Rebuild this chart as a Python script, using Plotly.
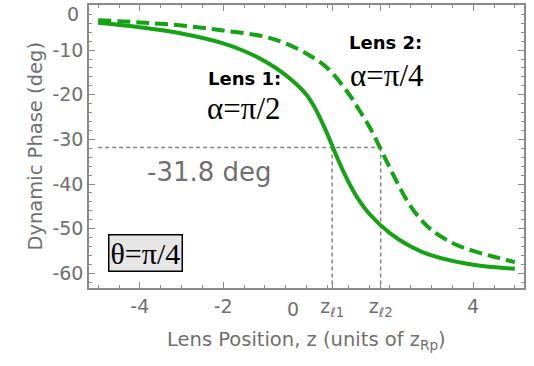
import plotly.graph_objects as go

# =============================================================================
# DATA
# =============================================================================
x_lens1 = [-5, -4, -3, -2, -1.5, -1, -0.5, 0, 0.25, 0.5, 0.75, 1.0, 1.25, 1.5, 2.0, 2.5, 3.0, 4.0, 5.0]
phase_lens1 = [-3.9, -4.9, -6.3, -8.5, -10.2, -12.5, -15.6, -20.0, -23.8, -28.8, -34.4, -39.4, -43.5, -46.6, -51.0, -54.0, -56.0, -58.1, -59.0]

x_lens2 = [-5, -4, -3, -2, -1, -0.5, 0, 0.5, 1.0, 1.25, 1.5, 1.75, 2.0, 2.25, 2.5, 2.75, 3.0, 3.5, 4.0, 4.5, 5.0]
phase_lens2 = [-3.3, -3.8, -4.5, -5.6, -7.0, -8.5, -10.8, -14.0, -19.6, -23.2, -27.0, -31.6, -36.4, -41.0, -45.0, -48.0, -50.3, -53.2, -55.0, -56.3, -57.5]

z_l1 = 0.615
z_l2 = 1.78
phase_mark = -31.8

x_tick_vals = [-4, -2, 4, z_l1, z_l2]
x_tick_text = ['-4', '-2', '4', 'z<sub><i>ℓ</i>1</sub>', 'z<sub><i>ℓ</i>2</sub>']
y_tick_vals = [-10, -20, -30, -40, -50, -60]
y_tick_text = ['-10', '-20', '-30', '-40', '-50', '-60']

X_RANGE = [-5.22, 5.22]
Y_RANGE = [-63.3, 0.1]

GREEN = '#13a313'
GRAY = '#707070'
GUIDE = '#858585'
SANS = 'DejaVu Sans'
SERIF = 'Liberation Serif'

# =============================================================================
# FIGURE
# =============================================================================
fig = go.Figure()

# guide lines
fig.add_trace(go.Scatter(
    x=[x_lens1[0], z_l2], y=[phase_mark, phase_mark], mode='lines',
    line=dict(color=GUIDE, width=1.5, dash='4px,3px'), hoverinfo='skip'
))
for zz in [z_l1, z_l2]:
    fig.add_trace(go.Scatter(
        x=[zz, zz], y=[phase_mark, Y_RANGE[0]], mode='lines',
        line=dict(color=GUIDE, width=1.5, dash='4px,3px'), hoverinfo='skip'
    ))

fig.add_trace(go.Scatter(
    x=x_lens2, y=phase_lens2, name='Lens 2', mode='lines', line_shape='spline',
    line=dict(color=GREEN, width=4, dash='13px,6px')
))
fig.add_trace(go.Scatter(
    x=x_lens1, y=phase_lens1, name='Lens 1', mode='lines', line_shape='spline',
    line=dict(color=GREEN, width=4)
))

axis_common = dict(
    showline=True, linecolor='#8a8a8a', linewidth=1.5, mirror='ticks',
    ticks='inside', ticklen=6, tickcolor='#8a8a8a', tickwidth=1,
    showgrid=False, zeroline=False, automargin=False,
    tickfont=dict(family=SANS, size=19, color=GRAY),
)

fig.update_layout(
    width=534, height=366,
    margin=dict(t=5, b=78, l=89, r=10),
    plot_bgcolor='white', paper_bgcolor='white',
    showlegend=False,
    xaxis=dict(range=X_RANGE, tickmode='array', tickvals=x_tick_vals, ticktext=x_tick_text,
               minor=dict(dtick=0.5, tick0=0, ticks='inside', ticklen=3, tickcolor='#8a8a8a'),
               **axis_common),
    yaxis=dict(range=Y_RANGE, tickmode='array', tickvals=y_tick_vals, ticktext=y_tick_text,
               minor=dict(dtick=2, tick0=0, ticks='inside', ticklen=3, tickcolor='#8a8a8a'),
               **axis_common),
)

ann = [
    # tick labels placed by hand, as in the reference
    dict(x=-0.33, y=0, yref='paper', yanchor='top', yshift=-8, text='0',
         font=dict(family=SANS, size=19, color=GRAY)),
    dict(x=0, xref='paper', xanchor='right', xshift=-8, y=0, yshift=-9, text='0',
         font=dict(family=SANS, size=19, color=GRAY)),
    # axis titles
    dict(x=0.5, xref='paper', y=-0.185, yref='paper', yanchor='middle',
         text='Lens Position, z (units of z<sub>Rp</sub>)',
         font=dict(family=SANS, size=19.5, color=GRAY)),
    dict(x=-0.155, xref='paper', y=0.5, yref='paper', textangle=-90,
         text='Dynamic Phase (deg)', font=dict(family=SANS, size=19.5, color=GRAY)),
    # labels in the plot
    dict(x=-1.48, y=-16.3, text='<b>Lens 1:</b>', font=dict(family=SANS, size=18, color='black')),
    dict(x=-1.5, y=-23.0, text='α=π/2', font=dict(family=SERIF, size=31, color='black')),
    dict(x=1.9, y=-8.4, text='<b>Lens 2:</b>', font=dict(family=SANS, size=18, color='black')),
    dict(x=1.93, y=-15.6, text='α=π/4', font=dict(family=SERIF, size=31, color='black')),
    dict(x=-2.34, y=-37.3, text='-31.8 deg', font=dict(family=SANS, size=26, color=GRAY)),
    dict(x=-3.86, y=-55.4, text='θ=π/4', font=dict(family=SERIF, size=30, color='black'),
         bgcolor='#e6e6e6', bordercolor='black', borderwidth=1.5, borderpad=1),
]
for a in ann:
    a.setdefault('showarrow', False)
    fig.add_annotation(**a)

# drop the browser's default page margin so the figure sits at the window corner
fig.write_html("out.html", config={'displayModeBar': False},
               post_script="document.body.style.margin='0';")
